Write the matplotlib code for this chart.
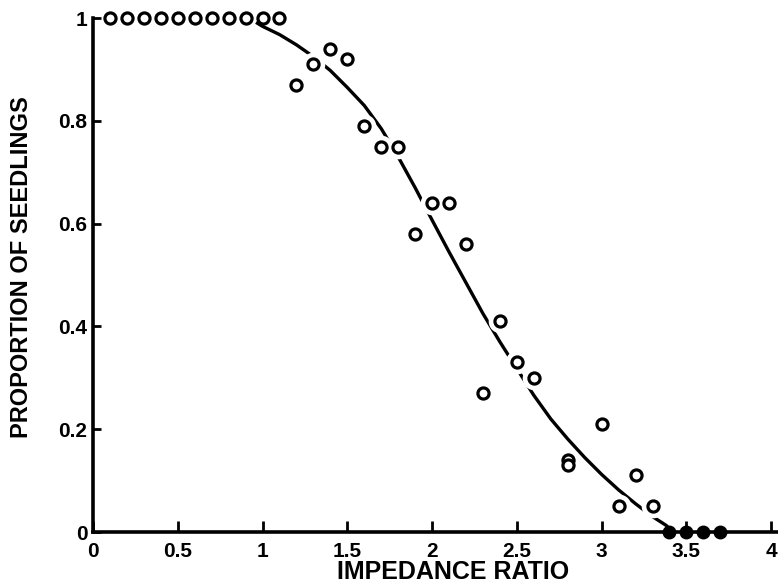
import matplotlib
matplotlib.use("Agg")
import matplotlib.pyplot as plt

# observed proportions (open circles)
obs_x = [0.1, 0.2, 0.3, 0.4, 0.5, 0.6, 0.7, 0.8, 0.9, 1.0, 1.1,
         1.2, 1.3, 1.4, 1.5, 1.6, 1.7, 1.8, 1.9, 2.0, 2.1, 2.2,
         2.3, 2.4, 2.5, 2.6, 2.8, 2.8, 3.0, 3.1, 3.2, 3.3]
obs_y = [1, 1, 1, 1, 1, 1, 1, 1, 1, 1, 1,
         0.87, 0.91, 0.94, 0.92, 0.79, 0.75, 0.75, 0.58, 0.64, 0.64, 0.56,
         0.27, 0.41, 0.33, 0.30, 0.14, 0.13, 0.21, 0.05, 0.11, 0.05]

# zero proportions (filled circles)
zero_x = [3.4, 3.5, 3.6, 3.7]
zero_y = [0, 0, 0, 0]

# fitted curve
fit_x = [0.97, 1.0, 1.1, 1.2, 1.3, 1.4, 1.5, 1.6, 1.7, 1.8, 1.9, 2.0, 2.1,
         2.2, 2.3, 2.4, 2.5, 2.6, 2.7, 2.8, 2.9, 3.0, 3.1, 3.2, 3.3, 3.38, 3.42]
fit_y = [0.99, 0.984, 0.968, 0.948, 0.925, 0.898, 0.865, 0.83, 0.785, 0.73,
         0.67, 0.607, 0.545, 0.485, 0.425, 0.37, 0.318, 0.266, 0.22, 0.181,
         0.145, 0.112, 0.082, 0.055, 0.03, 0.013, 0.0]

xticks = [0, 0.5, 1, 1.5, 2, 2.5, 3, 3.5, 4]
xticklabels = ["0", "0.5", "1", "1.5", "2", "2.5", "3", "3.5", "4"]
yticks = [0, 0.2, 0.4, 0.6, 0.8, 1]
yticklabels = ["0", "0.2", "0.4", "0.6", "0.8", "1"]

plt.rcParams["font.family"] = ["Liberation Sans", "DejaVu Sans"]
plt.rcParams["font.weight"] = "bold"

fig = plt.figure(figsize=(7.78, 5.84), dpi=100)
ax = fig.add_axes([0.1195, 0.089, 0.8805, 0.880])

ax.plot(fit_x, fit_y, color="black", lw=2.4, zorder=2,
        solid_joinstyle="round")
# white halo so the curve breaks around the points, like the original
ax.plot(obs_x[11:], obs_y[11:], "o", ms=17, color="white", mec="none", zorder=3)
ax.plot(obs_x, obs_y, "o", ms=8, mfc="white", mec="black", mew=2.3,
        zorder=4, clip_on=False)
ax.plot(zero_x, zero_y, "o", ms=9, color="black", zorder=5, clip_on=False)

ax.set_xlim(0, 4.04)
ax.set_ylim(0, 1)
ax.set_xticks(xticks)
ax.set_xticklabels(xticklabels)
ax.set_yticks(yticks)
ax.set_yticklabels(yticklabels)

for s in ["top", "right"]:
    ax.spines[s].set_visible(False)
for s in ["left", "bottom"]:
    ax.spines[s].set_linewidth(2.6)

ax.tick_params(direction="in", width=2, labelsize=15, pad=4)
ax.tick_params(axis="x", length=8, pad=7)
ax.tick_params(axis="y", length=6)
for lab in ax.get_xticklabels() + ax.get_yticklabels():
    lab.set_fontweight("bold")

ax.set_xlabel("IMPEDANCE RATIO", fontsize=18, fontweight="bold")
ax.set_ylabel("PROPORTION OF SEEDLINGS", fontsize=17, fontweight="bold")
ax.xaxis.set_label_coords(0.525, -0.055)
ax.yaxis.set_label_coords(-0.088, 0.515)

fig.savefig("out.png", dpi=100)
